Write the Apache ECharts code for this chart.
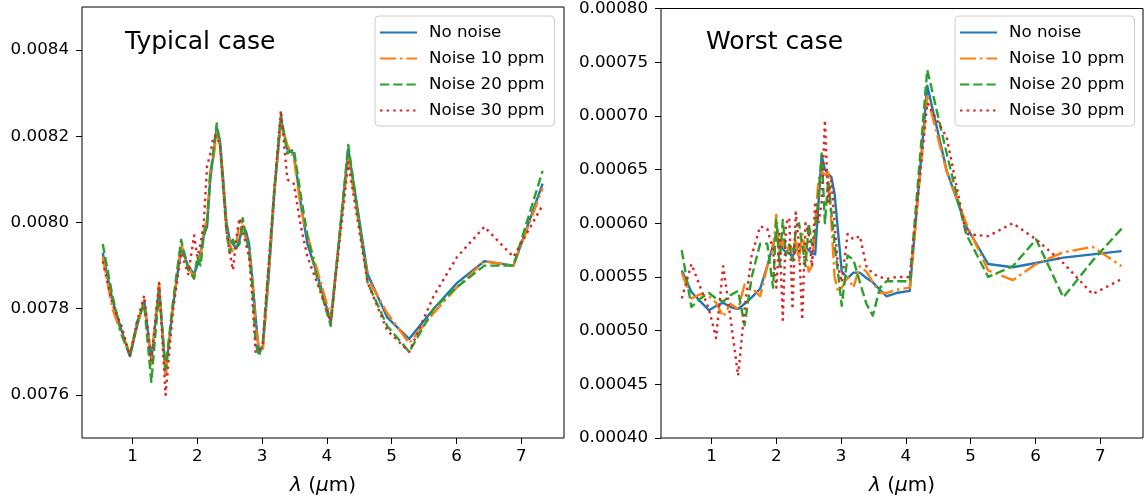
<!DOCTYPE html>
<html><head><meta charset="utf-8">
<script src="https://cdn.jsdelivr.net/npm/echarts@6/dist/echarts.min.js"></script>
<style>html,body{margin:0;padding:0;background:#fff}#c{width:1144px;height:501px}</style>
</head><body><div id="c"></div>
<script>
const seriesNames = ['No noise', 'Noise 10 ppm', 'Noise 20 ppm', 'Noise 30 ppm'];
const panelTitles = ['Typical case', 'Worst case'];
const xTicks = [1, 2, 3, 4, 5, 6, 7];
const yTicksTypical = [0.0076, 0.0078, 0.0080, 0.0082, 0.0084];
const yTicksWorst = [0.00040, 0.00045, 0.00050, 0.00055, 0.00060, 0.00065, 0.00070, 0.00075, 0.00080];

// wavelength grid (micrometres)
const wavelength = [0.54, 0.69, 0.83, 0.96, 1.07, 1.18, 1.29, 1.41, 1.51, 1.62, 1.75, 1.86, 1.95, 2.00, 2.05, 2.10, 2.15, 2.20, 2.25, 2.30, 2.35, 2.40, 2.45, 2.50, 2.55, 2.60, 2.65, 2.70, 2.75, 2.80, 2.85, 2.90, 2.95, 3.01, 3.10, 3.19, 3.29, 3.39, 3.49, 3.60, 3.70, 3.85, 4.06, 4.33, 4.63, 4.93, 5.27, 5.65, 6.01, 6.43, 6.88, 7.33];

// Typical case
const typNoNoise = [0.00793, 0.00782, 0.00775, 0.00769, 0.00776, 0.00782, 0.00768, 0.00785, 0.00765, 0.00780, 0.00794, 0.00790, 0.00788, 0.00790, 0.00793, 0.00797, 0.00799, 0.00810, 0.00816, 0.00822, 0.00819, 0.00810, 0.00800, 0.00796, 0.00795, 0.00794, 0.00796, 0.00799, 0.00798, 0.00795, 0.00787, 0.00778, 0.00770, 0.00771, 0.00787, 0.00807, 0.00824, 0.00817, 0.00816, 0.00804, 0.00795, 0.00788, 0.00777, 0.00817, 0.00788, 0.00778, 0.00773, 0.00780, 0.00786, 0.00791, 0.00790, 0.00809];
const typNoise10 = [0.00792, 0.00780, 0.00774, 0.00770, 0.00776, 0.00782, 0.00767, 0.00786, 0.00764, 0.00780, 0.00795, 0.00790, 0.00787, 0.00791, 0.00792, 0.00798, 0.00801, 0.00812, 0.00815, 0.00821, 0.00818, 0.00809, 0.00799, 0.00795, 0.00793, 0.00795, 0.00800, 0.00800, 0.00796, 0.00794, 0.00786, 0.00776, 0.00771, 0.00770, 0.00788, 0.00808, 0.00823, 0.00818, 0.00815, 0.00803, 0.00797, 0.00789, 0.00778, 0.00815, 0.00787, 0.00779, 0.00772, 0.00779, 0.00785, 0.00791, 0.00790, 0.00808];
const typNoise20 = [0.00795, 0.00783, 0.00774, 0.00769, 0.00777, 0.00781, 0.00763, 0.00784, 0.00766, 0.00781, 0.00796, 0.00789, 0.00787, 0.00792, 0.00790, 0.00797, 0.00800, 0.00811, 0.00817, 0.00823, 0.00818, 0.00808, 0.00798, 0.00793, 0.00796, 0.00794, 0.00795, 0.00801, 0.00797, 0.00793, 0.00785, 0.00772, 0.00769, 0.00772, 0.00790, 0.00808, 0.00825, 0.00816, 0.00817, 0.00806, 0.00797, 0.00787, 0.00776, 0.00818, 0.00786, 0.00776, 0.00770, 0.00780, 0.00785, 0.00790, 0.00790, 0.00812];
const typNoise30 = [0.00791, 0.00781, 0.00776, 0.00769, 0.00777, 0.00783, 0.00768, 0.00786, 0.00760, 0.00779, 0.00793, 0.00788, 0.00797, 0.00792, 0.00795, 0.00800, 0.00813, 0.00816, 0.00820, 0.00820, 0.00818, 0.00808, 0.00798, 0.00793, 0.00789, 0.00796, 0.00801, 0.00798, 0.00795, 0.00792, 0.00782, 0.00770, 0.00770, 0.00772, 0.00790, 0.00808, 0.00826, 0.00810, 0.00809, 0.00799, 0.00792, 0.00786, 0.00777, 0.00814, 0.00786, 0.00775, 0.00770, 0.00783, 0.00792, 0.00799, 0.00792, 0.00804];

// Worst case
const wstNoNoise = [0.000556, 0.000536, 0.000527, 0.000519, 0.000523, 0.000526, 0.000522, 0.000520, 0.000525, 0.000531, 0.000539, 0.000560, 0.000580, 0.000589, 0.000582, 0.000576, 0.000573, 0.000572, 0.000569, 0.000575, 0.000579, 0.000578, 0.000578, 0.000575, 0.000572, 0.000571, 0.000617, 0.000663, 0.000650, 0.000646, 0.000643, 0.000627, 0.000594, 0.000555, 0.000549, 0.000554, 0.000554, 0.000549, 0.000545, 0.000538, 0.000532, 0.000535, 0.000537, 0.000728, 0.000649, 0.000597, 0.000562, 0.000559, 0.000563, 0.000568, 0.000571, 0.000574];
const wstNoise10 = [0.000554, 0.000530, 0.000534, 0.000532, 0.000526, 0.000513, 0.000525, 0.000520, 0.000543, 0.000540, 0.000532, 0.000560, 0.000576, 0.000608, 0.000575, 0.000585, 0.000570, 0.000580, 0.000575, 0.000585, 0.000565, 0.000590, 0.000575, 0.000555, 0.000560, 0.000600, 0.000640, 0.000648, 0.000645, 0.000647, 0.000600, 0.000550, 0.000537, 0.000540, 0.000550, 0.000540, 0.000560, 0.000555, 0.000545, 0.000535, 0.000535, 0.000538, 0.000540, 0.000718, 0.000648, 0.000600, 0.000556, 0.000547, 0.000562, 0.000573, 0.000578, 0.000560];
const wstNoise20 = [0.000575, 0.000522, 0.000530, 0.000535, 0.000530, 0.000527, 0.000533, 0.000537, 0.000505, 0.000550, 0.000581, 0.000581, 0.000540, 0.000603, 0.000560, 0.000603, 0.000570, 0.000580, 0.000565, 0.000593, 0.000600, 0.000580, 0.000560, 0.000600, 0.000580, 0.000590, 0.000625, 0.000665, 0.000600, 0.000640, 0.000610, 0.000580, 0.000555, 0.000523, 0.000570, 0.000566, 0.000545, 0.000525, 0.000514, 0.000540, 0.000546, 0.000546, 0.000546, 0.000743, 0.000665, 0.000590, 0.000550, 0.000560, 0.000585, 0.000531, 0.000565, 0.000595];
const wstNoise30 = [0.000530, 0.000562, 0.000540, 0.000520, 0.000493, 0.000560, 0.000513, 0.000458, 0.000520, 0.000570, 0.000597, 0.000595, 0.000575, 0.000540, 0.000590, 0.000510, 0.000600, 0.000605, 0.000520, 0.000610, 0.000580, 0.000510, 0.000600, 0.000590, 0.000560, 0.000620, 0.000600, 0.000620, 0.000696, 0.000620, 0.000640, 0.000600, 0.000560, 0.000545, 0.000590, 0.000585, 0.000588, 0.000560, 0.000553, 0.000550, 0.000548, 0.000550, 0.000550, 0.000712, 0.000680, 0.000590, 0.000588, 0.000600, 0.000585, 0.000563, 0.000534, 0.000548];

const typicalSets = [typNoNoise, typNoise10, typNoise20, typNoise30];
const worstSets = [wstNoNoise, wstNoise10, wstNoise20, wstNoise30];

const colors = ['#1f77b4', '#ff7f0e', '#2ca02c', '#d62728'];
const dashes = ['solid', [16, 4, 2.5, 4], [9.25, 4], [2.5, 4.1]];
const FONT = 'DejaVu Sans';

function makeSeries(sets, idx) {
  return sets.map((vals, k) => ({
    name: seriesNames[k],
    type: 'line',
    xAxisIndex: idx, yAxisIndex: idx,
    symbol: 'none',
    animation: false,
    lineStyle: { color: colors[k], width: 2.4, type: dashes[k], cap: 'butt', join: 'round' },
    itemStyle: { color: colors[k] },
    data: wavelength.map((x, i) => [x, vals[i]])
  }));
}

function xAxisDef(idx) {
  return {
    gridIndex: idx, type: 'value', min: 0.22, max: 7.66,
    axisLine: { show: false },
    axisTick: { show: true, length: 6, inside: false, lineStyle: { color: '#000', width: 1 }, customValues: xTicks },
    axisLabel: { customValues: xTicks, fontSize: 16.7, color: '#000', fontFamily: FONT, margin: 10 },
    splitLine: { show: false },
    name: '{i|λ} ({i|μ}m)',
    nameLocation: 'middle', nameGap: 38,
    nameTextStyle: { fontSize: 20, color: '#000', fontFamily: FONT,
      rich: { i: { fontStyle: 'italic', fontSize: 20, fontFamily: FONT, color: '#000' } } }
  };
}
function yAxisDef(idx, min, max, ticks, dec) {
  return {
    gridIndex: idx, type: 'value', min: min, max: max,
    axisLine: { show: false },
    axisTick: { show: true, length: 6, lineStyle: { color: '#000', width: 1 }, customValues: ticks },
    axisLabel: { customValues: ticks, formatter: v => v.toFixed(dec), fontSize: 16.7, color: '#000', fontFamily: FONT, margin: 13 },
    splitLine: { show: false }
  };
}
function legendDef(left) {
  return {
    data: seriesNames, orient: 'vertical', left: left, top: 16,
    itemWidth: 37, itemHeight: 14, itemGap: 9,
    padding: [8, 10, 7, 4],
    backgroundColor: 'rgba(255,255,255,0.8)', borderColor: '#cccccc', borderWidth: 1, borderRadius: 4,
    selectedMode: false,
    itemStyle: { opacity: 0, borderWidth: 0 },
    lineStyle: { inactiveWidth: 2.4 },
    textStyle: { fontSize: 16.7, color: '#000', fontFamily: FONT, padding: [0, 0, 0, 7] }
  };
}

const chart = echarts.init(document.getElementById('c'), null, { renderer: 'canvas' });
chart.setOption({
  animation: false,
  backgroundColor: '#fff',
  textStyle: { fontFamily: FONT },
  title: [
    { text: panelTitles[0], left: 125, top: 30, padding: 0, textStyle: { fontSize: 25, fontWeight: 'normal', color: '#000', fontFamily: FONT } },
    { text: panelTitles[1], left: 706, top: 30, padding: 0, textStyle: { fontSize: 25, fontWeight: 'normal', color: '#000', fontFamily: FONT } }
  ],
  legend: [legendDef(375), legendDef(955)],
  grid: [
    { left: 82, top: 7, width: 482, height: 433, show: true, borderColor: '#000', borderWidth: 1, backgroundColor: 'transparent' },
    { left: 661, top: 7, width: 482, height: 433, show: true, borderColor: '#000', borderWidth: 1, backgroundColor: 'transparent' }
  ],
  xAxis: [xAxisDef(0), xAxisDef(1)],
  yAxis: [yAxisDef(0, 0.0075, 0.0085, yTicksTypical, 4), yAxisDef(1, 0.0004, 0.0008, yTicksWorst, 5)],
  series: makeSeries(typicalSets, 0).concat(makeSeries(worstSets, 1))
});
</script>
</body></html>
